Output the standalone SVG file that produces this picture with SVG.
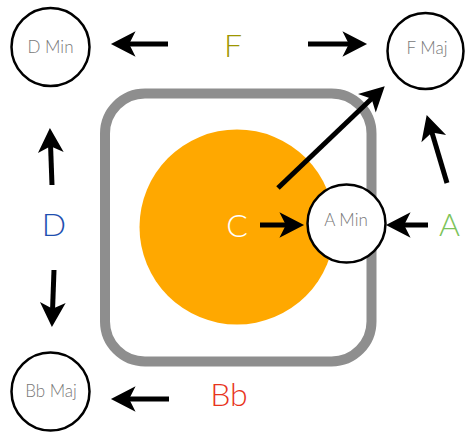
<svg xmlns="http://www.w3.org/2000/svg" width="465" height="432" viewBox="0 0 465 432">
<defs>
<marker id="ah" markerUnits="userSpaceOnUse" markerWidth="30" markerHeight="30" viewBox="-2 -14 28 28" refX="8" refY="0" orient="auto">
<path d="M0,-12 L23,0 L0,12 L6,0 Z" fill="#000"/>
</marker>
<style>
.node{fill:#fff;stroke:#000;stroke-width:2.5}
.nl{font-family:Lato,"Open Sans","Liberation Sans",sans-serif;font-size:17px;fill:#777;text-anchor:middle;font-weight:300}
.big{font-family:Lato,"Open Sans","Liberation Sans",sans-serif;font-size:32px;text-anchor:middle;font-weight:300}
.conn line{stroke:#000;stroke-width:5;marker-end:url(#ah)}
</style>
</defs>
<rect x="105" y="93.5" width="266.5" height="268" rx="40" ry="40" fill="none" stroke="#8e8e8e" stroke-width="10"/>
<g id="C">
<circle cx="237" cy="227" r="97.5" fill="#FFA800"/>
<text class="big" x="237" y="237" fill="#fff">C</text>
</g>
<g id="F"><text class="big" x="233" y="57" fill="#9e9600">F</text></g>
<g id="D"><text class="big" x="54" y="236" fill="#1f4fb0">D</text></g>
<g id="A"><text class="big" x="449.5" y="236" fill="#7cc35a">A</text></g>
<g id="Bb"><text class="big" x="229" y="406" fill="#e8341c">Bb</text></g>
<g id="DMin"><circle class="node" cx="50.5" cy="47" r="39"/><text class="nl" x="50.5" y="53">D Min</text></g>
<g id="FMaj"><circle class="node" cx="425.5" cy="51" r="38"/><text class="nl" x="427" y="54">F Maj</text></g>
<g id="AMin"><circle class="node" cx="346.5" cy="223.5" r="39"/><text class="nl" x="346" y="226">A Min</text></g>
<g id="BbMaj"><circle class="node" cx="50.5" cy="391.5" r="39"/><text class="nl" x="51" y="397">Bb Maj</text></g>
<g id="connectors" class="conn">
<line x1="168" y1="44" x2="127" y2="44"/>
<line x1="308" y1="44" x2="351" y2="44"/>
<line x1="278" y1="188" x2="373.1" y2="97.3"/>
<line x1="447" y1="183" x2="431.3" y2="130.4"/>
<line x1="428" y1="225" x2="402" y2="225"/>
<line x1="260" y1="225" x2="288" y2="225"/>
<line x1="52" y1="185" x2="50.5" y2="144"/>
<line x1="54" y1="270" x2="52.5" y2="311"/>
<line x1="169" y1="399" x2="127" y2="399"/>
</g>
</svg>
